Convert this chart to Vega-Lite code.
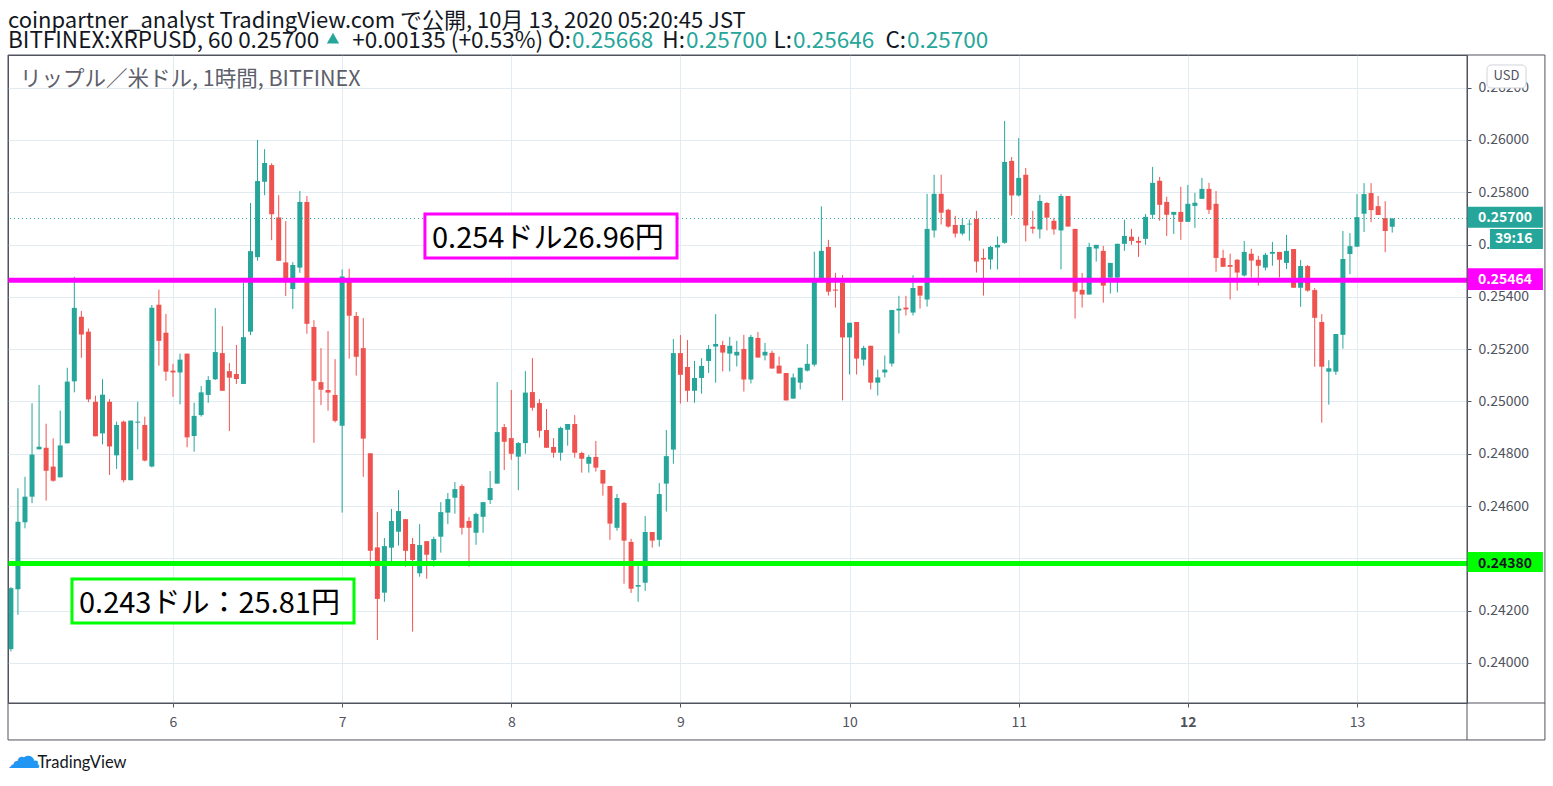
{
  "$schema": "https://vega.github.io/schema/vega-lite/v6.json",
  "description": "XRPUSD 1h candles on BITFINEX, 5-13 Oct 2020, with support and resistance levels",
  "width": 1459,
  "height": 648,
  "autosize": {"type": "none"},
  "padding": {"left": 8, "top": 55, "right": 86, "bottom": 83},
  "background": "#ffffff",
  "config": {
    "view": {"stroke": "#50535e", "strokeWidth": 1},
    "font": "Noto Sans CJK JP",
    "axis": {
      "gridColor": "#e1ecf2",
      "gridWidth": 1,
      "domain": false,
      "tickColor": "#50535e",
      "tickSize": 4,
      "labelColor": "#50535e",
      "labelFont": "Noto Sans CJK JP",
      "labelFontSize": 14
    }
  },
  "datasets": {
    "candles": [
      {"t":"2020-10-05T01:00Z","o":0.24053,"h":0.2429,"l":0.24044,"c":0.24286},
      {"t":"2020-10-05T02:00Z","o":0.24282,"h":0.24668,"l":0.24184,"c":0.2454},
      {"t":"2020-10-05T03:00Z","o":0.24538,"h":0.24712,"l":0.24515,"c":0.24636},
      {"t":"2020-10-05T04:00Z","o":0.24636,"h":0.24993,"l":0.24611,"c":0.24797},
      {"t":"2020-10-05T05:00Z","o":0.24817,"h":0.25063,"l":0.24817,"c":0.24827},
      {"t":"2020-10-05T06:00Z","o":0.24823,"h":0.24915,"l":0.24621,"c":0.24735},
      {"t":"2020-10-05T07:00Z","o":0.24751,"h":0.24859,"l":0.24693,"c":0.24697},
      {"t":"2020-10-05T08:00Z","o":0.2471,"h":0.24965,"l":0.2471,"c":0.24832},
      {"t":"2020-10-05T09:00Z","o":0.2484,"h":0.25129,"l":0.2484,"c":0.25076},
      {"t":"2020-10-05T10:00Z","o":0.25077,"h":0.25477,"l":0.25035,"c":0.25358},
      {"t":"2020-10-05T11:00Z","o":0.25324,"h":0.25346,"l":0.25167,"c":0.25256},
      {"t":"2020-10-05T12:00Z","o":0.25267,"h":0.25279,"l":0.24997,"c":0.25008},
      {"t":"2020-10-05T13:00Z","o":0.24999,"h":0.25022,"l":0.24867,"c":0.24867},
      {"t":"2020-10-05T14:00Z","o":0.24878,"h":0.25085,"l":0.24836,"c":0.25026},
      {"t":"2020-10-05T15:00Z","o":0.24999,"h":0.25009,"l":0.24719,"c":0.24828},
      {"t":"2020-10-05T16:00Z","o":0.24794,"h":0.24923,"l":0.24742,"c":0.2491},
      {"t":"2020-10-05T17:00Z","o":0.24923,"h":0.24927,"l":0.24691,"c":0.24699},
      {"t":"2020-10-05T18:00Z","o":0.24699,"h":0.24927,"l":0.24699,"c":0.24927},
      {"t":"2020-10-05T19:00Z","o":0.24919,"h":0.24999,"l":0.24817,"c":0.24923},
      {"t":"2020-10-05T20:00Z","o":0.2491,"h":0.24942,"l":0.24771,"c":0.24774},
      {"t":"2020-10-05T21:00Z","o":0.24751,"h":0.25369,"l":0.24748,"c":0.25358},
      {"t":"2020-10-05T22:00Z","o":0.2537,"h":0.25428,"l":0.25137,"c":0.25232},
      {"t":"2020-10-05T23:00Z","o":0.25263,"h":0.25335,"l":0.25079,"c":0.25114},
      {"t":"2020-10-06T00:00Z","o":0.25118,"h":0.25144,"l":0.25018,"c":0.25111},
      {"t":"2020-10-06T01:00Z","o":0.25111,"h":0.25183,"l":0.24989,"c":0.2516},
      {"t":"2020-10-06T02:00Z","o":0.25183,"h":0.25183,"l":0.24825,"c":0.24863},
      {"t":"2020-10-06T03:00Z","o":0.24868,"h":0.24995,"l":0.24808,"c":0.24945},
      {"t":"2020-10-06T04:00Z","o":0.24948,"h":0.25059,"l":0.24942,"c":0.25035},
      {"t":"2020-10-06T05:00Z","o":0.25025,"h":0.25097,"l":0.24995,"c":0.25082},
      {"t":"2020-10-06T06:00Z","o":0.25085,"h":0.25357,"l":0.25082,"c":0.25189},
      {"t":"2020-10-06T07:00Z","o":0.25185,"h":0.25288,"l":0.25041,"c":0.25041},
      {"t":"2020-10-06T08:00Z","o":0.25116,"h":0.25147,"l":0.24887,"c":0.25091},
      {"t":"2020-10-06T09:00Z","o":0.25105,"h":0.25216,"l":0.25067,"c":0.25086},
      {"t":"2020-10-06T10:00Z","o":0.25067,"h":0.25453,"l":0.25067,"c":0.25246},
      {"t":"2020-10-06T11:00Z","o":0.25267,"h":0.25759,"l":0.25254,"c":0.25575},
      {"t":"2020-10-06T12:00Z","o":0.25552,"h":0.26,"l":0.25538,"c":0.25843},
      {"t":"2020-10-06T13:00Z","o":0.2584,"h":0.25965,"l":0.25789,"c":0.25912},
      {"t":"2020-10-06T14:00Z","o":0.25904,"h":0.25911,"l":0.25617,"c":0.25716},
      {"t":"2020-10-06T15:00Z","o":0.25704,"h":0.25789,"l":0.25538,"c":0.25538},
      {"t":"2020-10-06T16:00Z","o":0.25532,"h":0.2569,"l":0.25403,"c":0.25468},
      {"t":"2020-10-06T17:00Z","o":0.2543,"h":0.25533,"l":0.25354,"c":0.25522},
      {"t":"2020-10-06T18:00Z","o":0.25512,"h":0.25805,"l":0.25492,"c":0.25763},
      {"t":"2020-10-06T19:00Z","o":0.25763,"h":0.25786,"l":0.25259,"c":0.25297},
      {"t":"2020-10-06T20:00Z","o":0.25285,"h":0.25311,"l":0.24842,"c":0.25079},
      {"t":"2020-10-06T21:00Z","o":0.25074,"h":0.25204,"l":0.24986,"c":0.25045},
      {"t":"2020-10-06T22:00Z","o":0.25044,"h":0.25269,"l":0.24965,"c":0.25034},
      {"t":"2020-10-06T23:00Z","o":0.25025,"h":0.25162,"l":0.2492,"c":0.24926},
      {"t":"2020-10-07T00:00Z","o":0.24907,"h":0.25505,"l":0.24575,"c":0.25478},
      {"t":"2020-10-07T01:00Z","o":0.25468,"h":0.25508,"l":0.25164,"c":0.25328},
      {"t":"2020-10-07T02:00Z","o":0.25327,"h":0.25342,"l":0.25099,"c":0.25171},
      {"t":"2020-10-07T03:00Z","o":0.25204,"h":0.25319,"l":0.24712,"c":0.24858},
      {"t":"2020-10-07T04:00Z","o":0.24802,"h":0.24802,"l":0.24368,"c":0.24429},
      {"t":"2020-10-07T05:00Z","o":0.24442,"h":0.24577,"l":0.24088,"c":0.24245},
      {"t":"2020-10-07T06:00Z","o":0.24269,"h":0.24478,"l":0.24234,"c":0.24447},
      {"t":"2020-10-07T07:00Z","o":0.24441,"h":0.24589,"l":0.24371,"c":0.24543},
      {"t":"2020-10-07T08:00Z","o":0.24502,"h":0.24661,"l":0.24449,"c":0.24581},
      {"t":"2020-10-07T09:00Z","o":0.2455,"h":0.2455,"l":0.24368,"c":0.24429},
      {"t":"2020-10-07T10:00Z","o":0.24455,"h":0.24478,"l":0.2412,"c":0.24394},
      {"t":"2020-10-07T11:00Z","o":0.24343,"h":0.24531,"l":0.2433,"c":0.24451},
      {"t":"2020-10-07T12:00Z","o":0.24466,"h":0.24466,"l":0.24322,"c":0.24414},
      {"t":"2020-10-07T13:00Z","o":0.24394,"h":0.24483,"l":0.24368,"c":0.24474},
      {"t":"2020-10-07T14:00Z","o":0.24483,"h":0.24615,"l":0.24422,"c":0.24577},
      {"t":"2020-10-07T15:00Z","o":0.24575,"h":0.2465,"l":0.24531,"c":0.24627},
      {"t":"2020-10-07T16:00Z","o":0.24632,"h":0.24692,"l":0.24571,"c":0.24665},
      {"t":"2020-10-07T17:00Z","o":0.24677,"h":0.24684,"l":0.24491,"c":0.24517},
      {"t":"2020-10-07T18:00Z","o":0.24543,"h":0.24558,"l":0.24368,"c":0.24517},
      {"t":"2020-10-07T19:00Z","o":0.24498,"h":0.24575,"l":0.24452,"c":0.2457},
      {"t":"2020-10-07T20:00Z","o":0.24559,"h":0.24615,"l":0.24498,"c":0.24615},
      {"t":"2020-10-07T21:00Z","o":0.24623,"h":0.24734,"l":0.24608,"c":0.24669},
      {"t":"2020-10-07T22:00Z","o":0.24686,"h":0.25074,"l":0.24686,"c":0.24883},
      {"t":"2020-10-07T23:00Z","o":0.24902,"h":0.24914,"l":0.24738,"c":0.24846},
      {"t":"2020-10-08T00:00Z","o":0.2486,"h":0.25044,"l":0.24777,"c":0.248},
      {"t":"2020-10-08T01:00Z","o":0.24789,"h":0.24845,"l":0.24661,"c":0.24841},
      {"t":"2020-10-08T02:00Z","o":0.24841,"h":0.25116,"l":0.248,"c":0.25034},
      {"t":"2020-10-08T03:00Z","o":0.25036,"h":0.25166,"l":0.24965,"c":0.24976},
      {"t":"2020-10-08T04:00Z","o":0.24994,"h":0.25009,"l":0.24862,"c":0.24888},
      {"t":"2020-10-08T05:00Z","o":0.24891,"h":0.24971,"l":0.24823,"c":0.24823},
      {"t":"2020-10-08T06:00Z","o":0.24826,"h":0.2486,"l":0.24785,"c":0.24804},
      {"t":"2020-10-08T07:00Z","o":0.24804,"h":0.24904,"l":0.24774,"c":0.24899},
      {"t":"2020-10-08T08:00Z","o":0.24892,"h":0.24914,"l":0.24831,"c":0.24914},
      {"t":"2020-10-08T09:00Z","o":0.24914,"h":0.24948,"l":0.24785,"c":0.24804},
      {"t":"2020-10-08T10:00Z","o":0.24803,"h":0.24808,"l":0.24728,"c":0.24781},
      {"t":"2020-10-08T11:00Z","o":0.24762,"h":0.24795,"l":0.24728,"c":0.24788},
      {"t":"2020-10-08T12:00Z","o":0.24788,"h":0.24849,"l":0.24732,"c":0.24747},
      {"t":"2020-10-08T13:00Z","o":0.24738,"h":0.24738,"l":0.2464,"c":0.24686},
      {"t":"2020-10-08T14:00Z","o":0.24677,"h":0.24677,"l":0.24471,"c":0.24533},
      {"t":"2020-10-08T15:00Z","o":0.24517,"h":0.24646,"l":0.24506,"c":0.24631},
      {"t":"2020-10-08T16:00Z","o":0.24612,"h":0.24616,"l":0.24303,"c":0.24468},
      {"t":"2020-10-08T17:00Z","o":0.24463,"h":0.24475,"l":0.24268,"c":0.24284},
      {"t":"2020-10-08T18:00Z","o":0.24292,"h":0.24375,"l":0.24234,"c":0.24298},
      {"t":"2020-10-08T19:00Z","o":0.24307,"h":0.24562,"l":0.24276,"c":0.24501},
      {"t":"2020-10-08T20:00Z","o":0.24501,"h":0.24501,"l":0.24441,"c":0.24468},
      {"t":"2020-10-08T21:00Z","o":0.24471,"h":0.24688,"l":0.24445,"c":0.24646},
      {"t":"2020-10-08T22:00Z","o":0.24686,"h":0.24891,"l":0.24579,"c":0.24791},
      {"t":"2020-10-08T23:00Z","o":0.24816,"h":0.25239,"l":0.24762,"c":0.25185},
      {"t":"2020-10-09T00:00Z","o":0.25185,"h":0.25254,"l":0.24992,"c":0.25102},
      {"t":"2020-10-09T01:00Z","o":0.25132,"h":0.25235,"l":0.24999,"c":0.25041},
      {"t":"2020-10-09T02:00Z","o":0.25041,"h":0.25155,"l":0.24995,"c":0.2509},
      {"t":"2020-10-09T03:00Z","o":0.2509,"h":0.25166,"l":0.2503,"c":0.25136},
      {"t":"2020-10-09T04:00Z","o":0.25155,"h":0.25216,"l":0.25109,"c":0.25201},
      {"t":"2020-10-09T05:00Z","o":0.2521,"h":0.25334,"l":0.25072,"c":0.2522},
      {"t":"2020-10-09T06:00Z","o":0.25216,"h":0.25232,"l":0.25115,"c":0.25187},
      {"t":"2020-10-09T07:00Z","o":0.25183,"h":0.25247,"l":0.25115,"c":0.25213},
      {"t":"2020-10-09T08:00Z","o":0.25176,"h":0.25232,"l":0.25134,"c":0.2519},
      {"t":"2020-10-09T09:00Z","o":0.25201,"h":0.25255,"l":0.25038,"c":0.25084},
      {"t":"2020-10-09T10:00Z","o":0.25084,"h":0.25255,"l":0.25069,"c":0.25247},
      {"t":"2020-10-09T11:00Z","o":0.25243,"h":0.25266,"l":0.25168,"c":0.25168},
      {"t":"2020-10-09T12:00Z","o":0.25176,"h":0.25224,"l":0.25157,"c":0.2519},
      {"t":"2020-10-09T13:00Z","o":0.25186,"h":0.25194,"l":0.25126,"c":0.25126},
      {"t":"2020-10-09T14:00Z","o":0.25137,"h":0.25172,"l":0.25107,"c":0.25107},
      {"t":"2020-10-09T15:00Z","o":0.25109,"h":0.25109,"l":0.25004,"c":0.25004},
      {"t":"2020-10-09T16:00Z","o":0.25011,"h":0.25107,"l":0.25011,"c":0.25092},
      {"t":"2020-10-09T17:00Z","o":0.25072,"h":0.25129,"l":0.25046,"c":0.25129},
      {"t":"2020-10-09T18:00Z","o":0.25118,"h":0.2522,"l":0.25115,"c":0.25144},
      {"t":"2020-10-09T19:00Z","o":0.25141,"h":0.25573,"l":0.25134,"c":0.25459},
      {"t":"2020-10-09T20:00Z","o":0.25459,"h":0.25746,"l":0.25455,"c":0.25576},
      {"t":"2020-10-09T21:00Z","o":0.25591,"h":0.25618,"l":0.25405,"c":0.2542},
      {"t":"2020-10-09T22:00Z","o":0.25428,"h":0.25492,"l":0.25359,"c":0.25424},
      {"t":"2020-10-09T23:00Z","o":0.25454,"h":0.25484,"l":0.25004,"c":0.25245},
      {"t":"2020-10-10T00:00Z","o":0.25245,"h":0.25301,"l":0.25103,"c":0.25301},
      {"t":"2020-10-10T01:00Z","o":0.25304,"h":0.25304,"l":0.25103,"c":0.25164},
      {"t":"2020-10-10T02:00Z","o":0.2516,"h":0.25213,"l":0.25137,"c":0.25205},
      {"t":"2020-10-10T03:00Z","o":0.25213,"h":0.25213,"l":0.25046,"c":0.25072},
      {"t":"2020-10-10T04:00Z","o":0.25072,"h":0.25122,"l":0.25023,"c":0.25092},
      {"t":"2020-10-10T05:00Z","o":0.25111,"h":0.25176,"l":0.25092,"c":0.25122},
      {"t":"2020-10-10T06:00Z","o":0.25145,"h":0.2535,"l":0.25134,"c":0.2535},
      {"t":"2020-10-10T07:00Z","o":0.25348,"h":0.25404,"l":0.2526,"c":0.25355},
      {"t":"2020-10-10T08:00Z","o":0.25359,"h":0.25404,"l":0.25329,"c":0.25352},
      {"t":"2020-10-10T09:00Z","o":0.2534,"h":0.25483,"l":0.25329,"c":0.25434},
      {"t":"2020-10-10T10:00Z","o":0.25442,"h":0.25442,"l":0.25355,"c":0.25405},
      {"t":"2020-10-10T11:00Z","o":0.2539,"h":0.25794,"l":0.25363,"c":0.2566},
      {"t":"2020-10-10T12:00Z","o":0.25654,"h":0.25867,"l":0.25627,"c":0.25794},
      {"t":"2020-10-10T13:00Z","o":0.25794,"h":0.25867,"l":0.25677,"c":0.25722},
      {"t":"2020-10-10T14:00Z","o":0.25733,"h":0.25737,"l":0.25665,"c":0.25669},
      {"t":"2020-10-10T15:00Z","o":0.25675,"h":0.2571,"l":0.25627,"c":0.25642},
      {"t":"2020-10-10T16:00Z","o":0.25642,"h":0.25698,"l":0.25635,"c":0.25675},
      {"t":"2020-10-10T17:00Z","o":0.25677,"h":0.25696,"l":0.25615,"c":0.2568},
      {"t":"2020-10-10T18:00Z","o":0.25698,"h":0.25729,"l":0.25493,"c":0.25535},
      {"t":"2020-10-10T19:00Z","o":0.25549,"h":0.25584,"l":0.25405,"c":0.25543},
      {"t":"2020-10-10T20:00Z","o":0.25543,"h":0.25595,"l":0.25505,"c":0.25591},
      {"t":"2020-10-10T21:00Z","o":0.25589,"h":0.25631,"l":0.25505,"c":0.25599},
      {"t":"2020-10-10T22:00Z","o":0.25607,"h":0.26073,"l":0.25603,"c":0.25916},
      {"t":"2020-10-10T23:00Z","o":0.2592,"h":0.25935,"l":0.25711,"c":0.25788},
      {"t":"2020-10-11T00:00Z","o":0.25788,"h":0.26008,"l":0.25784,"c":0.25855},
      {"t":"2020-10-11T01:00Z","o":0.25867,"h":0.25893,"l":0.25612,"c":0.25673},
      {"t":"2020-10-11T02:00Z","o":0.25668,"h":0.25729,"l":0.25642,"c":0.25661},
      {"t":"2020-10-11T03:00Z","o":0.25658,"h":0.2579,"l":0.25623,"c":0.25767},
      {"t":"2020-10-11T04:00Z","o":0.25759,"h":0.25763,"l":0.25654,"c":0.25703},
      {"t":"2020-10-11T05:00Z","o":0.25691,"h":0.25702,"l":0.25638,"c":0.25658},
      {"t":"2020-10-11T06:00Z","o":0.25654,"h":0.25794,"l":0.25505,"c":0.25786},
      {"t":"2020-10-11T07:00Z","o":0.25786,"h":0.25786,"l":0.25669,"c":0.25669},
      {"t":"2020-10-11T08:00Z","o":0.2566,"h":0.2566,"l":0.25317,"c":0.2542},
      {"t":"2020-10-11T09:00Z","o":0.25427,"h":0.25492,"l":0.25359,"c":0.25409},
      {"t":"2020-10-11T10:00Z","o":0.25409,"h":0.25607,"l":0.25409,"c":0.25591},
      {"t":"2020-10-11T11:00Z","o":0.25585,"h":0.25599,"l":0.25535,"c":0.25599},
      {"t":"2020-10-11T12:00Z","o":0.25576,"h":0.25595,"l":0.25378,"c":0.25443},
      {"t":"2020-10-11T13:00Z","o":0.25474,"h":0.2553,"l":0.25413,"c":0.2553},
      {"t":"2020-10-11T14:00Z","o":0.25474,"h":0.25603,"l":0.25417,"c":0.25603},
      {"t":"2020-10-11T15:00Z","o":0.25603,"h":0.25695,"l":0.25576,"c":0.25633},
      {"t":"2020-10-11T16:00Z","o":0.2563,"h":0.2566,"l":0.25599,"c":0.25614},
      {"t":"2020-10-11T17:00Z","o":0.25614,"h":0.2563,"l":0.25553,"c":0.25607},
      {"t":"2020-10-11T18:00Z","o":0.25622,"h":0.25717,"l":0.25599,"c":0.25706},
      {"t":"2020-10-11T19:00Z","o":0.25714,"h":0.25897,"l":0.25698,"c":0.25836},
      {"t":"2020-10-11T20:00Z","o":0.25844,"h":0.25859,"l":0.25691,"c":0.25752},
      {"t":"2020-10-11T21:00Z","o":0.25763,"h":0.25783,"l":0.25633,"c":0.25714},
      {"t":"2020-10-11T22:00Z","o":0.25714,"h":0.25725,"l":0.25641,"c":0.25725},
      {"t":"2020-10-11T23:00Z","o":0.25725,"h":0.25821,"l":0.25618,"c":0.25687},
      {"t":"2020-10-12T00:00Z","o":0.25687,"h":0.25828,"l":0.25687,"c":0.25756},
      {"t":"2020-10-12T01:00Z","o":0.25748,"h":0.25798,"l":0.25664,"c":0.2576},
      {"t":"2020-10-12T02:00Z","o":0.25775,"h":0.25855,"l":0.25775,"c":0.25813},
      {"t":"2020-10-12T03:00Z","o":0.25813,"h":0.25836,"l":0.25717,"c":0.25733},
      {"t":"2020-10-12T04:00Z","o":0.25756,"h":0.25805,"l":0.25496,"c":0.25549},
      {"t":"2020-10-12T05:00Z","o":0.25549,"h":0.2558,"l":0.25515,"c":0.25515},
      {"t":"2020-10-12T06:00Z","o":0.25522,"h":0.25565,"l":0.2539,"c":0.25515},
      {"t":"2020-10-12T07:00Z","o":0.25542,"h":0.25545,"l":0.25424,"c":0.25493},
      {"t":"2020-10-12T08:00Z","o":0.25482,"h":0.25614,"l":0.25478,"c":0.25572},
      {"t":"2020-10-12T09:00Z","o":0.25565,"h":0.25584,"l":0.25474,"c":0.25539},
      {"t":"2020-10-12T10:00Z","o":0.25542,"h":0.25557,"l":0.25443,"c":0.25519},
      {"t":"2020-10-12T11:00Z","o":0.25512,"h":0.25568,"l":0.25501,"c":0.25561},
      {"t":"2020-10-12T12:00Z","o":0.25565,"h":0.2561,"l":0.25519,"c":0.25572},
      {"t":"2020-10-12T13:00Z","o":0.25572,"h":0.25572,"l":0.25474,"c":0.25542},
      {"t":"2020-10-12T14:00Z","o":0.2553,"h":0.25637,"l":0.25507,"c":0.25576},
      {"t":"2020-10-12T15:00Z","o":0.25583,"h":0.25583,"l":0.25435,"c":0.25435},
      {"t":"2020-10-12T16:00Z","o":0.25435,"h":0.25541,"l":0.25362,"c":0.25518},
      {"t":"2020-10-12T17:00Z","o":0.25518,"h":0.25522,"l":0.2542,"c":0.25424},
      {"t":"2020-10-12T18:00Z","o":0.25426,"h":0.25434,"l":0.25133,"c":0.2532},
      {"t":"2020-10-12T19:00Z","o":0.25304,"h":0.25334,"l":0.24919,"c":0.25133},
      {"t":"2020-10-12T20:00Z","o":0.25114,"h":0.25158,"l":0.24988,"c":0.25127},
      {"t":"2020-10-12T21:00Z","o":0.25114,"h":0.25258,"l":0.25102,"c":0.25258},
      {"t":"2020-10-12T22:00Z","o":0.25255,"h":0.25652,"l":0.25202,"c":0.25545},
      {"t":"2020-10-12T23:00Z","o":0.25564,"h":0.25644,"l":0.25487,"c":0.25594},
      {"t":"2020-10-13T00:00Z","o":0.25592,"h":0.25793,"l":0.25592,"c":0.25705},
      {"t":"2020-10-13T01:00Z","o":0.25718,"h":0.25835,"l":0.25648,"c":0.25793},
      {"t":"2020-10-13T02:00Z","o":0.25797,"h":0.25835,"l":0.25686,"c":0.25732},
      {"t":"2020-10-13T03:00Z","o":0.25747,"h":0.25786,"l":0.25713,"c":0.25713},
      {"t":"2020-10-13T04:00Z","o":0.25701,"h":0.25766,"l":0.25571,"c":0.25652},
      {"t":"2020-10-13T05:00Z","o":0.25668,"h":0.257,"l":0.25646,"c":0.257}
    ],
    "levels": [
      {"p": 0.25464, "level": "resistance"},
      {"p": 0.2438, "level": "support"}
    ],
    "notes": [
      {"t1": "2020-10-07T11:45Z", "t2": "2020-10-08T23:31Z", "p1": 0.25717, "p2": 0.255488, "level": "resistance", "tt": "2020-10-07T12:45Z", "tp": 0.25587, "text": "0.254ドル26.96円"},
      {"t1": "2020-10-05T09:40Z", "t2": "2020-10-07T01:41Z", "p1": 0.243212, "p2": 0.24153, "level": "support", "tt": "2020-10-05T10:40Z", "tp": 0.241912, "text": "0.243ドル：25.81円"}
    ],
    "tags": [
      {"kind": "last", "top": 0.257449, "bottom": 0.256646, "mid": 0.257, "label": "0.25700"},
      {"kind": "resistance", "top": 0.255094, "bottom": 0.254264, "mid": 0.25464, "label": "0.25464"},
      {"kind": "support", "top": 0.244245, "bottom": 0.24348, "mid": 0.2438, "label": "0.24380"}
    ],
    "header": [
      {"t": "2020-10-05T00:35:24Z", "p": 0.264283, "line": 1, "tone": "ink", "anchor": "start", "text": "coinpartner_analyst TradingView.com で公開, 10月 13, 2020 05:20:45 JST"},
      {"t": "2020-10-05T00:35:24Z", "p": 0.263518, "line": 2, "tone": "ink", "anchor": "start", "text": "BITFINEX:XRPUSD, 60 0.25700"},
      {"t": "2020-10-08T08:37Z", "p": 0.263518, "line": 2, "tone": "ink", "anchor": "end", "text": "+0.00135 (+0.53%) O:"},
      {"t": "2020-10-08T08:37Z", "p": 0.263518, "line": 2, "tone": "teal", "anchor": "start", "text": "0.25668"},
      {"t": "2020-10-09T00:47Z", "p": 0.263518, "line": 2, "tone": "ink", "anchor": "end", "text": "H:"},
      {"t": "2020-10-09T00:47Z", "p": 0.263518, "line": 2, "tone": "teal", "anchor": "start", "text": "0.25700"},
      {"t": "2020-10-09T15:58Z", "p": 0.263518, "line": 2, "tone": "ink", "anchor": "end", "text": "L:"},
      {"t": "2020-10-09T15:58Z", "p": 0.263518, "line": 2, "tone": "teal", "anchor": "start", "text": "0.25646"},
      {"t": "2020-10-10T08:09Z", "p": 0.263518, "line": 2, "tone": "ink", "anchor": "end", "text": "C:"},
      {"t": "2020-10-10T08:09Z", "p": 0.263518, "line": 2, "tone": "teal", "anchor": "start", "text": "0.25700"}
    ]
  },
  "layer": [
    {
      "data": {"name": "candles"},
      "mark": {"type": "rule", "strokeWidth": 1},
      "encoding": {
        "x": {
          "field": "t",
          "type": "temporal",
          "title": null,
          "scale": {
            "type": "utc",
            "nice": false,
            "padding": 0,
            "domain": [
              {"year": 2020, "month": 10, "date": 5, "hours": 0, "minutes": 35, "seconds": 24, "utc": true},
              {"year": 2020, "month": 10, "date": 13, "hours": 15, "minutes": 36, "seconds": 30, "utc": true}
            ]
          },
          "axis": {
            "orient": "bottom",
            "values": [
              {"year": 2020, "month": 10, "date": 6, "utc": true},
              {"year": 2020, "month": 10, "date": 7, "utc": true},
              {"year": 2020, "month": 10, "date": 8, "utc": true},
              {"year": 2020, "month": 10, "date": 9, "utc": true},
              {"year": 2020, "month": 10, "date": 10, "utc": true},
              {"year": 2020, "month": 10, "date": 11, "utc": true},
              {"year": 2020, "month": 10, "date": 12, "utc": true},
              {"year": 2020, "month": 10, "date": 13, "utc": true}
            ],
            "labelExpr": "utcFormat(datum.value, '%-d')",
            "labelPadding": 8,
            "labelFontWeight": {"condition": {"test": "utcdate(datum.value) == 12", "value": "bold"}, "value": "normal"}
          }
        },
        "y": {
          "field": "l",
          "type": "quantitative",
          "title": null,
          "scale": {"domain": [0.23847, 0.26325], "nice": false, "zero": false},
          "axis": {
            "orient": "right",
            "values": [0.24, 0.242, 0.244, 0.246, 0.248, 0.25, 0.252, 0.254, 0.256, 0.258, 0.26, 0.262],
            "format": ".5f",
            "labelPadding": 7
          }
        },
        "y2": {"field": "h"},
        "color": {"condition": {"test": "datum.c >= datum.o", "value": "#26a69a"}, "value": "#ef5350"}
      }
    },
    {
      "data": {"name": "candles"},
      "mark": {"type": "bar", "width": 5},
      "encoding": {
        "x": {"field": "t", "type": "temporal", "title": null},
        "y": {"field": "o", "type": "quantitative", "title": null},
        "y2": {"field": "c"},
        "color": {"condition": {"test": "datum.c >= datum.o", "value": "#26a69a"}, "value": "#ef5350"}
      }
    },
    {
      "data": {"values": [{"p": 0.257}]},
      "mark": {"type": "rule", "color": "#26a69a", "strokeWidth": 1, "strokeDash": [1, 3]},
      "encoding": {
        "y": {"field": "p", "type": "quantitative", "title": null}
      }
    },
    {
      "data": {"name": "levels"},
      "mark": {"type": "rule", "strokeWidth": 5},
      "encoding": {
        "y": {"field": "p", "type": "quantitative", "title": null},
        "color": {"field": "level", "type": "nominal", "scale": {"domain": ["resistance", "support"], "range": ["#ff00ff", "#00ff00"]}, "legend": null}
      }
    },
    {
      "data": {"name": "notes"},
      "mark": {"type": "rect", "fill": "#ffffff", "strokeWidth": 3},
      "encoding": {
        "x": {"field": "t1", "type": "temporal", "title": null},
        "x2": {"field": "t2"},
        "y": {"field": "p1", "type": "quantitative", "title": null},
        "y2": {"field": "p2"},
        "stroke": {"field": "level", "type": "nominal", "scale": {"domain": ["resistance", "support"], "range": ["#ff00ff", "#00ff00"]}, "legend": null}
      }
    },
    {
      "data": {"name": "notes"},
      "mark": {"type": "text", "align": "left", "baseline": "alphabetic", "fontSize": 29, "color": "#000000"},
      "encoding": {
        "x": {"field": "tt", "type": "temporal", "title": null},
        "y": {"field": "tp", "type": "quantitative", "title": null},
        "text": {"field": "text"}
      }
    },
    {
      "data": {"name": "header"},
      "transform": [{"filter": "datum.line == 1"}],
      "mark": {"type": "text", "align": "left", "baseline": "alphabetic", "fontSize": 22, "color": "#131722"},
      "encoding": {
        "x": {"field": "t", "type": "temporal", "title": null},
        "y": {"field": "p", "type": "quantitative", "title": null},
        "text": {"field": "text"}
      }
    },
    {
      "data": {"name": "header"},
      "transform": [{"filter": "datum.line == 2 && datum.anchor == 'start'"}],
      "mark": {"type": "text", "align": "left", "baseline": "alphabetic", "fontSize": 22.5},
      "encoding": {
        "x": {"field": "t", "type": "temporal", "title": null},
        "y": {"field": "p", "type": "quantitative", "title": null},
        "text": {"field": "text"},
        "color": {"condition": {"test": "datum.tone == 'teal'", "value": "#26a69a"}, "value": "#131722"}
      }
    },
    {
      "data": {"name": "header"},
      "transform": [{"filter": "datum.line == 2 && datum.anchor == 'end'"}],
      "mark": {"type": "text", "align": "right", "baseline": "alphabetic", "fontSize": 22.5, "dx": -1, "color": "#131722"},
      "encoding": {
        "x": {"field": "t", "type": "temporal", "title": null},
        "y": {"field": "p", "type": "quantitative", "title": null},
        "text": {"field": "text"}
      }
    },
    {
      "data": {"values": [{"t": "2020-10-06T22:42Z", "p": 0.263895}]},
      "mark": {"type": "point", "shape": "triangle-up", "filled": true, "size": 150, "color": "#26a69a", "opacity": 1},
      "encoding": {
        "x": {"field": "t", "type": "temporal", "title": null},
        "y": {"field": "p", "type": "quantitative", "title": null}
      }
    },
    {
      "data": {"values": [{"t": "2020-10-05T02:17Z", "p": 0.262065, "text": "リップル／米ドル, 1時間, BITFINEX"}]},
      "mark": {"type": "text", "align": "left", "baseline": "alphabetic", "fontSize": 21.5, "color": "#5d606b"},
      "encoding": {
        "x": {"field": "t", "type": "temporal", "title": null},
        "y": {"field": "p", "type": "quantitative", "title": null},
        "text": {"field": "text"}
      }
    },
    {
      "data": {"name": "tags"},
      "mark": {"type": "rect"},
      "encoding": {
        "x": {"datum": {"year": 2020, "month": 10, "date": 13, "hours": 15, "minutes": 36, "seconds": 30, "utc": true}, "type": "temporal"},
        "x2": {"datum": {"year": 2020, "month": 10, "date": 14, "hours": 2, "minutes": 23, "utc": true}},
        "y": {"field": "top", "type": "quantitative", "title": null},
        "y2": {"field": "bottom"},
        "fill": {"field": "kind", "type": "nominal", "scale": {"domain": ["last", "resistance", "support"], "range": ["#26a69a", "#ff00ff", "#00ff00"]}, "legend": null}
      }
    },
    {
      "data": {"name": "tags"},
      "mark": {"type": "text", "align": "left", "baseline": "middle", "fontSize": 14, "fontWeight": "bold"},
      "encoding": {
        "x": {"datum": {"year": 2020, "month": 10, "date": 13, "hours": 17, "minutes": 10, "utc": true}, "type": "temporal"},
        "y": {"field": "mid", "type": "quantitative", "title": null},
        "text": {"field": "label"},
        "color": {"condition": {"test": "datum.kind == 'support'", "value": "#131722"}, "value": "#ffffff"}
      }
    },
    {
      "data": {"values": [{"text": "39:16", "top": 0.256597, "bottom": 0.255832, "mid": 0.256215}]},
      "layer": [
        {
          "mark": {"type": "rect", "color": "#26a69a"},
          "encoding": {
            "x": {"datum": {"year": 2020, "month": 10, "date": 13, "hours": 18, "minutes": 52, "utc": true}, "type": "temporal"},
            "x2": {"datum": {"year": 2020, "month": 10, "date": 14, "hours": 2, "minutes": 23, "utc": true}},
            "y": {"field": "top", "type": "quantitative", "title": null},
            "y2": {"field": "bottom"}
          }
        },
        {
          "mark": {"type": "text", "align": "left", "baseline": "middle", "fontSize": 14, "fontWeight": "bold", "color": "#ffffff"},
          "encoding": {
            "x": {"datum": {"year": 2020, "month": 10, "date": 13, "hours": 19, "minutes": 35, "utc": true}, "type": "temporal"},
            "y": {"field": "mid", "type": "quantitative", "title": null},
            "text": {"field": "text"}
          }
        }
      ]
    },
    {
      "data": {"values": [{"text": "USD", "top": 0.262868, "bottom": 0.261989, "mid": 0.262428}]},
      "layer": [
        {
          "mark": {"type": "rect", "fill": "#ffffff", "stroke": "#d1d4dc", "strokeWidth": 1, "cornerRadius": 4},
          "encoding": {
            "x": {"datum": {"year": 2020, "month": 10, "date": 13, "hours": 18, "minutes": 27, "utc": true}, "type": "temporal"},
            "x2": {"datum": {"year": 2020, "month": 10, "date": 13, "hours": 23, "minutes": 59, "utc": true}},
            "y": {"field": "top", "type": "quantitative", "title": null},
            "y2": {"field": "bottom"}
          }
        },
        {
          "mark": {"type": "text", "align": "center", "baseline": "middle", "fontSize": 13, "color": "#50535e"},
          "encoding": {
            "x": {"datum": {"year": 2020, "month": 10, "date": 13, "hours": 21, "minutes": 13, "utc": true}, "type": "temporal"},
            "y": {"field": "mid", "type": "quantitative", "title": null},
            "text": {"field": "text"}
          }
        }
      ]
    },
    {
      "data": {"values": [{"top": 0.26325, "bottom": 0.237056}]},
      "layer": [
        {
          "mark": {"type": "rect", "filled": false, "color": "#50535e", "strokeWidth": 1},
          "encoding": {
            "x": {"datum": {"year": 2020, "month": 10, "date": 5, "hours": 0, "minutes": 35, "seconds": 24, "utc": true}, "type": "temporal"},
            "x2": {"datum": {"year": 2020, "month": 10, "date": 14, "hours": 2, "minutes": 40, "utc": true}},
            "y": {"field": "top", "type": "quantitative", "title": null},
            "y2": {"field": "bottom"}
          }
        },
        {
          "mark": {"type": "rule", "color": "#50535e", "strokeWidth": 1},
          "encoding": {
            "x": {"datum": {"year": 2020, "month": 10, "date": 13, "hours": 15, "minutes": 36, "seconds": 30, "utc": true}, "type": "temporal"},
            "y": {"field": "top", "type": "quantitative", "title": null},
            "y2": {"field": "bottom"}
          }
        }
      ]
    },
    {
      "data": {"values": [{"t": "2020-10-05T00:35:24Z", "t2": "2020-10-14T02:40Z", "p": 0.23847}]},
      "mark": {"type": "rule", "color": "#50535e", "strokeWidth": 1},
      "encoding": {
        "x": {"field": "t", "type": "temporal", "title": null},
        "x2": {"field": "t2"},
        "y": {"field": "p", "type": "quantitative", "title": null}
      }
    },
    {
      "data": {"values": [{"t": "2020-10-05T04:46Z", "p": 0.235985, "text": "TradingView"}]},
      "mark": {"type": "text", "align": "left", "baseline": "alphabetic", "fontSize": 16.5, "color": "#131722", "font": "Lato"},
      "encoding": {
        "x": {"field": "t", "type": "temporal", "title": null},
        "y": {"field": "p", "type": "quantitative", "title": null},
        "text": {"field": "text"}
      }
    },
    {
      "data": {"values": [{"t": "2020-10-05T02:49Z", "p": 0.23638, "text": "☁"}]},
      "mark": {"type": "text", "align": "center", "baseline": "middle", "fontSize": 34, "color": "#2196f3", "font": "DejaVu Sans"},
      "encoding": {
        "x": {"field": "t", "type": "temporal", "title": null},
        "y": {"field": "p", "type": "quantitative", "title": null},
        "text": {"field": "text"}
      }
    }
  ]
}
